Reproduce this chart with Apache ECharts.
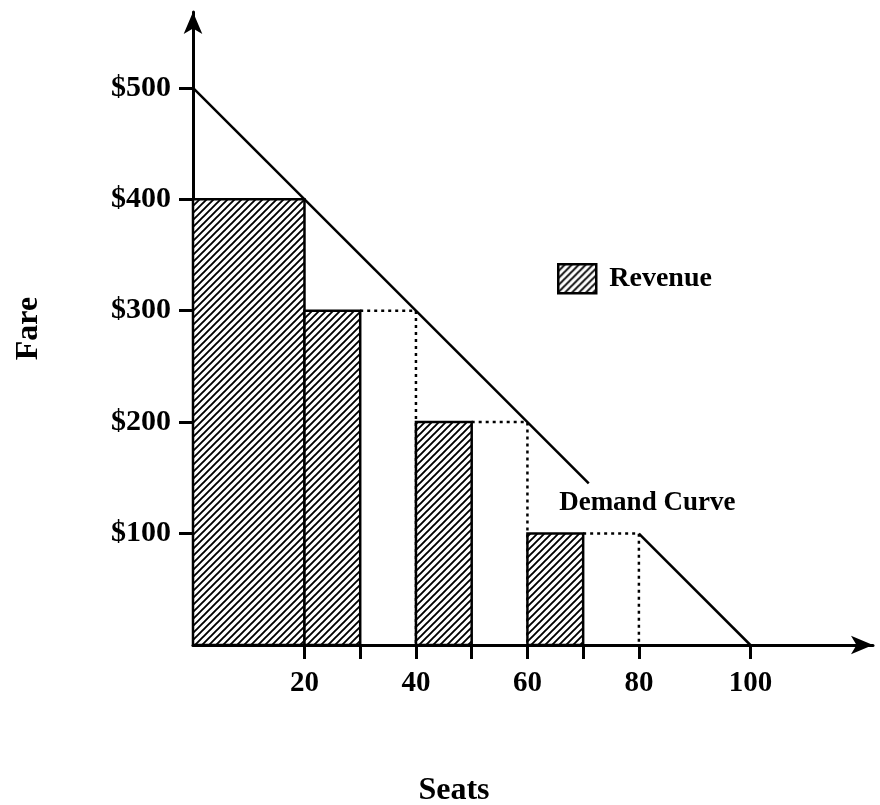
<!DOCTYPE html>
<html><head><meta charset="utf-8">
<script src="https://cdn.jsdelivr.net/npm/echarts@6/dist/echarts.min.js"></script>
<style>html,body{margin:0;padding:0;background:#fff}#c{width:880px;height:805px}</style>
</head><body><div id="c"></div>
<script>
// Data
const revenueBars = [[0, 20, 400], [20, 30, 300], [40, 50, 200], [60, 70, 100]]; // [seatStart, seatEnd, fare]
const dottedSteps = [[30, 40, 300], [50, 60, 200], [70, 80, 100]]; // [seatStart, seatEnd, fare]
const demandSeg1 = [[0, 500], [71, 145]];
const demandSeg2 = [[80, 100], [100, 0]];
const xTickValues = [20, 30, 40, 50, 60, 70, 80, 100];
const xLabelValues = [20, 40, 60, 80, 100];
const yTickValues = [100, 200, 300, 400, 500];
const demandLabelPos = [81.5, 127];

const FONT = '"Liberation Serif", "DejaVu Serif", serif';

// hatch pattern
function hatch() {
  const s = 7;
  const c = document.createElement('canvas');
  c.width = s; c.height = s;
  const g = c.getContext('2d');
  g.fillStyle = '#fff'; g.fillRect(0, 0, s, s);
  g.strokeStyle = '#000'; g.lineWidth = 1.9;
  g.beginPath();
  g.moveTo(-1, s + 1); g.lineTo(s + 1, -1);
  g.moveTo(-1, 1); g.lineTo(1, -1);
  g.moveTo(s - 1, s + 1); g.lineTo(s + 1, s - 1);
  g.stroke();
  return c;
}
const pat = { image: hatch(), repeat: 'repeat' };

const series = [];
series.push({
  name: 'Revenue', type: 'custom',
  data: revenueBars,
  itemStyle: { color: pat, borderColor: '#000', borderWidth: 2.5 },
  renderItem: function (params, api) {
    const p0 = api.coord([api.value(0), api.value(2)]);
    const p1 = api.coord([api.value(1), 0]);
    return {
      type: 'rect',
      shape: { x: p0[0], y: p0[1], width: p1[0] - p0[0], height: p1[1] - p0[1] },
      style: { fill: pat, stroke: '#000', lineWidth: 2.5 }
    };
  },
  encode: { x: [0, 1], y: 2 },
  z: 2
});
dottedSteps.forEach(function (d) {
  series.push({
    type: 'line', symbol: 'none', silent: true,
    data: [[d[0], d[2]], [d[1], d[2]], [d[1], 0]],
    lineStyle: { color: '#000', width: 2.5, type: [3, 4] },
    z: 1
  });
});
[demandSeg1, demandSeg2].forEach(function (seg) {
  series.push({
    type: 'line', symbol: 'none', silent: true,
    data: seg,
    lineStyle: { color: '#000', width: 2.5 },
    z: 3
  });
});
series.push({
  type: 'scatter', symbolSize: 0, silent: true,
  data: [demandLabelPos],
  itemStyle: { opacity: 1, color: '#000' },
  label: { show: true, position: 'inside', formatter: 'Demand Curve', color: '#000', textBorderWidth: 0, opacity: 1, fontFamily: FONT, fontSize: 27, fontWeight: 'bold' }
});

const chart = echarts.init(document.getElementById('c'));
chart.setOption({
  animation: false,
  backgroundColor: '#fff',
  grid: { left: 193, right: 7, top: 12, bottom: 160, containLabel: false, outerBoundsMode: 'none' },
  title: {
    text: 'Seats', left: 449, top: 770, textAlign: 'center',
    textStyle: { fontFamily: FONT, fontSize: 32, fontWeight: 'bold', color: '#000' }
  },
  legend: {
    data: ['Revenue'], left: 552, top: 258,
    itemWidth: 38, itemHeight: 29, icon: 'rect', itemGap: 10,
    itemStyle: { color: pat, borderColor: '#000', borderWidth: 2.5 },
    textStyle: { fontFamily: FONT, fontSize: 28, fontWeight: 'bold', color: '#000', padding: [0, 0, 0, 8] }
  },
  xAxis: {
    type: 'value', min: 0, max: 122,
    axisLine: { show: true, lineStyle: { color: '#000', width: 3 }, symbol: ['none', 'arrow'], symbolSize: [14, 22] },
    axisTick: { show: true, inside: false, length: 14, lineStyle: { color: '#000', width: 3 }, customValues: xTickValues },
    axisLabel: { customValues: xLabelValues, margin: 24, fontFamily: FONT, fontSize: 29, fontWeight: 'bold', color: '#000' },
    splitLine: { show: false }
  },
  yAxis: {
    type: 'value', min: 0, max: 568, name: 'Fare',
    nameLocation: 'middle', nameGap: 148, nameRotate: 90,
    nameTextStyle: { fontFamily: FONT, fontSize: 32, fontWeight: 'bold', color: '#000' },
    axisLine: { show: true, lineStyle: { color: '#000', width: 3 }, symbol: ['none', 'arrow'], symbolSize: [14, 22] },
    axisTick: { show: true, length: 14, lineStyle: { color: '#000', width: 3 }, customValues: yTickValues },
    axisLabel: { customValues: yTickValues, margin: 22, fontFamily: FONT, fontSize: 30, fontWeight: 'bold', color: '#000', formatter: function (v) { return '$' + v; } },
    splitLine: { show: false }
  },
  series: series
});
</script></body></html>
